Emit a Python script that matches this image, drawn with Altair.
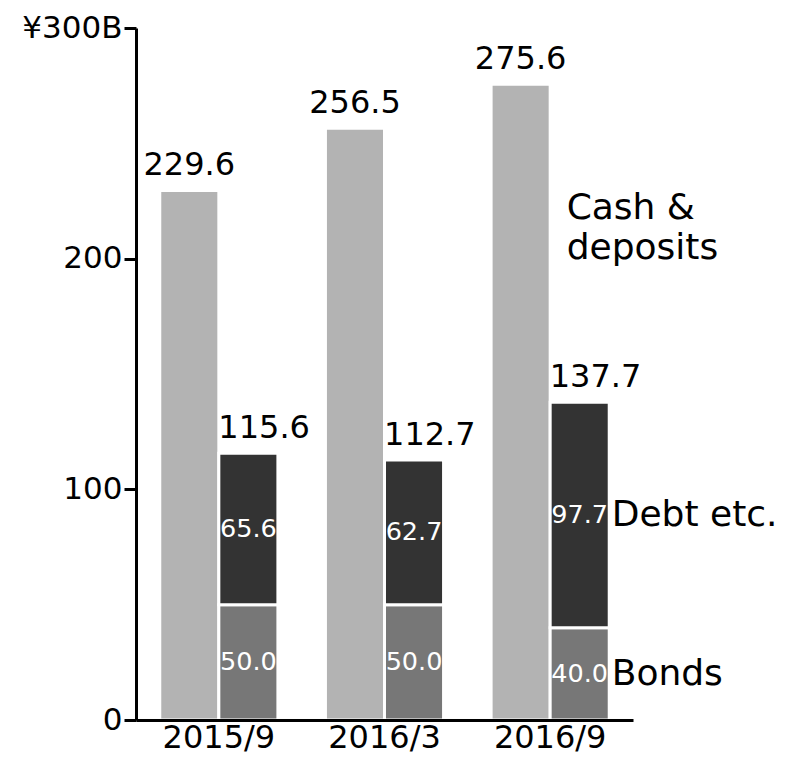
import altair as alt
import pandas as pd

periods = ["2015/9", "2016/3", "2016/9"]
cash = [229.6, 256.5, 275.6]
bonds = [50.0, 50.0, 40.0]
debt = [65.6, 62.7, 97.7]
totals = [115.6, 112.7, 137.7]
y_ticks = [0, 100, 200, 300]

FONT = "DejaVu Sans"

rows = []
for p, c, b, d in zip(periods, cash, bonds, debt):
    rows.append({"period": p, "sub": "cash", "part": "Cash", "lo": 0.0, "hi": c,
                 "mid": c / 2, "label": f"{c:.1f}", "name": ""})
    rows.append({"period": p, "sub": "stack", "part": "Bonds", "lo": 0.0, "hi": b,
                 "mid": b / 2, "label": f"{b:.1f}", "name": "Bonds"})
    rows.append({"period": p, "sub": "stack", "part": "Debt", "lo": b, "hi": b + d,
                 "mid": b + d / 2, "label": f"{d:.1f}", "name": "Debt etc."})
df = pd.DataFrame(rows)

df_tot = pd.DataFrame({"period": periods, "sub": ["stack"] * 3, "total": totals,
                       "label": [f"{t:.1f}" for t in totals]})
df_cash_note = pd.DataFrame({"period": ["2016/9"], "sub": ["cash"],
                             "text": [["Cash &", "deposits"]]})

x_enc = alt.X("period:N",
              scale=alt.Scale(domain=periods, paddingInner=0, paddingOuter=0),
              axis=alt.Axis(title=None, ticks=False, tickSize=0, labelAngle=0,
                            labelFontSize=32, labelFont=FONT, labelColor="black",
                            labelBaseline="alphabetic", labelPadding=27,
                            domainColor="black", domainWidth=3, zindex=1))
xo_enc = alt.XOffset("sub:N",
                     scale=alt.Scale(domain=["cash", "stack"], paddingInner=0,
                                     paddingOuter=0.4025))
y_scale = alt.Scale(domain=[0, 300], nice=False)

bars = alt.Chart(df).mark_bar(stroke="white", strokeWidth=3).encode(
    x=x_enc,
    xOffset=xo_enc,
    y=alt.Y("hi:Q", scale=y_scale,
            axis=alt.Axis(title=None, values=y_ticks, grid=False, tickSize=12,
                          tickWidth=3, tickColor="black", domainColor="black",
                          domainWidth=3, labelFontSize=31, labelFont=FONT,
                          labelColor="black", labelPadding=2, labelFlush=False,
                          labelOverlap=False, zindex=1,
                          labelExpr="datum.value == 300 ? '¥300B' : datum.label")),
    y2="lo:Q",
    color=alt.Color("part:N", legend=None,
                    scale=alt.Scale(domain=["Cash", "Bonds", "Debt"],
                                    range=["#b3b3b3", "#777777", "#333333"])),
)

inner = alt.Chart(df).transform_filter("datum.part != 'Cash'").mark_text(
    font=FONT, fontSize=25.5, color="white", baseline="middle", align="center"
).encode(x=x_enc, xOffset=xo_enc, y=alt.Y("mid:Q", scale=y_scale), text="label:N")

cash_lbl = alt.Chart(df).transform_filter("datum.part == 'Cash'").mark_text(
    font=FONT, fontSize=32, color="black", baseline="alphabetic", align="center", dy=-15
).encode(x=x_enc, xOffset=xo_enc, y=alt.Y("hi:Q", scale=y_scale), text="label:N")

tot_lbl = alt.Chart(df_tot).mark_text(
    font=FONT, fontSize=32, color="black", baseline="alphabetic", align="left",
    dy=-15, dx=-30
).encode(x=x_enc, xOffset=xo_enc, y=alt.Y("total:Q", scale=y_scale), text="label:N")

side_lbl = alt.Chart(df).transform_filter(
    "datum.period == '2016/9' && datum.part != 'Cash'"
).mark_text(
    font=FONT, fontSize=36, color="black", baseline="middle", align="left", dx=32
).encode(x=x_enc, xOffset=xo_enc, y=alt.Y("mid:Q", scale=y_scale), text="name:N")

cash_note = alt.Chart(df_cash_note).mark_text(
    font=FONT, fontSize=36, color="black", baseline="alphabetic", align="left",
    dx=46, lineHeight=40
).encode(x=x_enc, xOffset=xo_enc, y=alt.datum(217, scale=y_scale), text="text")

chart = alt.layer(bars, inner, cash_lbl, tot_lbl, side_lbl, cash_note).properties(
    width=497, height=692,
    autosize=alt.AutoSizeParams(type="none"),
    padding={"left": 128, "top": 20, "right": 148, "bottom": 37},
    background="white",
).configure_view(stroke=None)

chart.save("out.html", embed_options={"renderer": "svg", "actions": False})
